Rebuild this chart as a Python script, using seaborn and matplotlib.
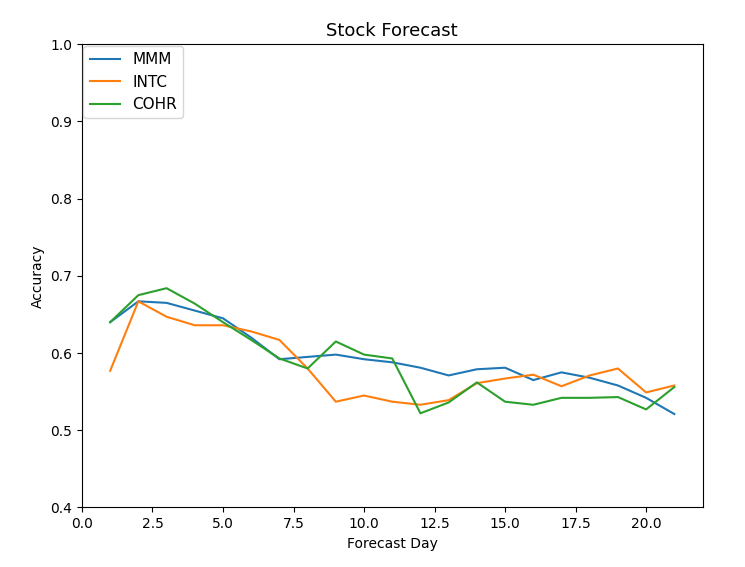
import matplotlib
matplotlib.use("Agg")
import matplotlib.pyplot as plt
import seaborn as sns
import pandas as pd

days = list(range(1, 22))
mmm = [0.640, 0.667, 0.665, 0.655, 0.645, 0.620, 0.592, 0.595, 0.598, 0.592, 0.588,
       0.581, 0.571, 0.579, 0.581, 0.565, 0.575, 0.568, 0.558, 0.542, 0.521]
intc = [0.577, 0.667, 0.647, 0.636, 0.636, 0.628, 0.617, 0.580, 0.537, 0.545, 0.537,
        0.533, 0.539, 0.561, 0.567, 0.572, 0.557, 0.571, 0.580, 0.549, 0.558]
cohr = [0.640, 0.675, 0.684, 0.664, 0.640, 0.617, 0.593, 0.580, 0.615, 0.598, 0.593,
        0.522, 0.536, 0.562, 0.537, 0.533, 0.542, 0.542, 0.543, 0.527, 0.556]

df = pd.DataFrame({"Forecast Day": days * 3,
                   "Accuracy": mmm + intc + cohr,
                   "Stock": ["MMM"] * 21 + ["INTC"] * 21 + ["COHR"] * 21})

fig, ax = plt.subplots(figsize=(7.45, 5.67), dpi=100)
sns.lineplot(data=df, x="Forecast Day", y="Accuracy", hue="Stock",
             palette=["#1f77b4", "#ff7f0e", "#2ca02c"], linewidth=1.5, ax=ax)
ax.set_ylim(0.4, 1.0)
ax.set_xlim(0, 22)
ax.set_title("Stock Forecast", fontsize=13)
ax.legend(title=None, loc="upper left", fontsize=11, borderaxespad=0.1)
plt.subplots_adjust(left=0.11, right=0.943, top=0.922, bottom=0.105)
plt.savefig("out.png", dpi=100)
plt.close()
